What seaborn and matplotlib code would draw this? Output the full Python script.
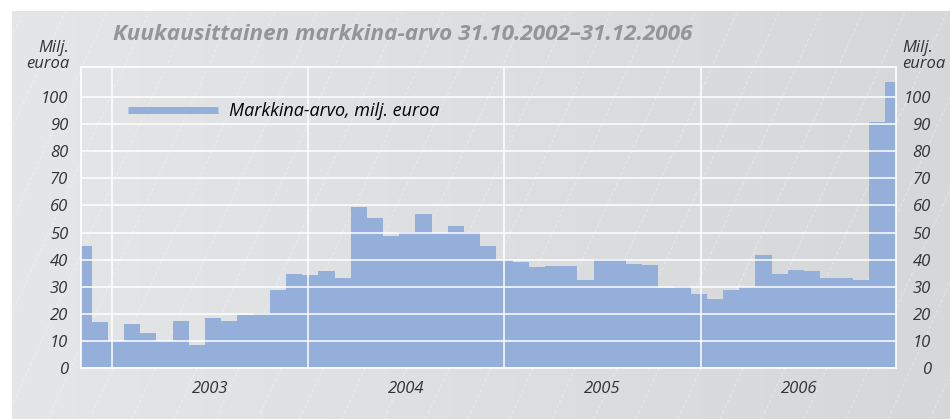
import numpy as np
import pandas as pd
import matplotlib
matplotlib.use("Agg")
import matplotlib.pyplot as plt
import seaborn as sns
from matplotlib.lines import Line2D
from matplotlib.colors import LinearSegmentedColormap

# ---------------- data ----------------
months = pd.date_range("2002-10-01", "2006-12-01", freq="MS").strftime("%Y-%m").tolist()
values = [45.0, 16.9, 10.2,
          16.4, 13.1, 10.2, 17.6, 8.5, 18.4, 17.5, 19.6, 20.5, 29.0, 34.8, 34.3,
          35.7, 33.1, 59.4, 55.4, 48.7, 50.1, 56.8, 49.7, 52.3, 50.2, 45.2, 39.9,
          39.1, 37.3, 37.6, 37.6, 32.4, 40.4, 40.1, 38.5, 38.0, 29.5, 30.2, 27.3,
          25.7, 28.7, 30.0, 41.7, 34.8, 36.3, 35.7, 33.1, 33.1, 32.7, 90.9, 105.5]
years = ["2003", "2004", "2005", "2006"]
y_ticks = list(range(0, 101, 10))
title = "Kuukausittainen markkina-arvo 31.10.2002\u201331.12.2006"
legend_label = "Markkina-arvo, milj. euroa"
unit_label = "Milj.\neuroa"

# ---------------- style ----------------
sns.set_style("white")
plt.rcParams["font.family"] = ["Open Sans", "DejaVu Sans"]
plt.rcParams["font.style"] = "italic"

bar_color = "#95afdb"
text_color = "#333333"

W, H = 950, 419
fig = plt.figure(figsize=(W / 100, H / 100), dpi=100, facecolor="white")

# background panel with gradient and faint dashed diagonals
bg = fig.add_axes([12 / W, 0, (W - 12) / W, (H - 11) / H])
bg.set_zorder(0)
cmap = LinearSegmentedColormap.from_list("g", ["#e5e6e8", "#d6d7d9"])
bg.imshow(np.linspace(0, 1, 256).reshape(1, -1), cmap=cmap, aspect="auto",
          extent=[0, W - 12, 0, H - 11])
for x0 in np.arange(-300, W + 50, 42):
    bg.plot([x0, x0 + (H - 11) / 2.2], [0, H - 11], color="white", lw=0.6,
            ls=(0, (4, 3)), alpha=0.4)
bg.set_xlim(0, W - 12)
bg.set_ylim(0, H - 11)
bg.axis("off")

# main axes
ax = fig.add_axes([80.7 / W, 1 - 368.3 / H, (896 - 80.7) / W, (368.3 - 67) / H])
ax.set_zorder(1)
ax.patch.set_alpha(0)

df = pd.DataFrame({"month": months, "value": values})
sns.barplot(data=df, x="month", y="value", color=bar_color, saturation=1,
            width=1.0, linewidth=0, ax=ax)

ax.set_xlim(-0.18, 50.18)
ax.set_ylim(0, 111)
ax.set_yticks(y_ticks)
ax.set_ylabel("")
ax.set_xlabel("")
ax.set_axisbelow(False)
ax.yaxis.grid(True, color="white", lw=1.1)
ax.xaxis.grid(False)

first_year_line = 1.735
year_step = 12.13
year_lines = [first_year_line + k * year_step for k in range(len(years) + 1)]
for xl in year_lines[:-1]:
    ax.axvline(xl, color="white", lw=1.1, zorder=3)
centers = [(year_lines[k] + year_lines[k + 1]) / 2 for k in range(len(years))]
ax.set_xticks(centers)
ax.set_xticklabels(years)

for s in ax.spines.values():
    s.set_color("white")
    s.set_linewidth(1.2)
    s.set_visible(True)

ax.tick_params(axis="y", length=0, pad=9, labelsize=12, labelcolor=text_color)
ax.tick_params(axis="x", length=0, pad=9, labelsize=12, labelcolor=text_color)

ax2 = ax.twinx()
ax2.set_ylim(ax.get_ylim())
ax2.set_yticks(y_ticks)
ax2.tick_params(axis="y", length=0, pad=25, labelsize=12, labelcolor=text_color)
for t in ax2.get_yticklabels():
    t.set_ha("right")
for s in ax2.spines.values():
    s.set_visible(False)
ax2.grid(False)

# legend
handle = Line2D([0], [0], color=bar_color, lw=5, solid_capstyle="butt")
fig.legend([handle], [legend_label], loc="center left",
           bbox_to_anchor=(128 / W, 1 - 111 / H), frameon=False,
           handlelength=5.0, handletextpad=0.6, borderpad=0, borderaxespad=0,
           fontsize=13, labelcolor="black")

# titles and unit labels
fig.text(403 / W, 1 - 35 / H, title, ha="center", va="center", fontsize=16.2,
         weight="bold", color="#959595")
fig.text(69 / W, 1 - 56 / H, unit_label, ha="right", va="center", fontsize=12,
         color=text_color, linespacing=1.0)
fig.text(902 / W, 1 - 56 / H, unit_label, ha="left", va="center", fontsize=12,
         color=text_color, linespacing=1.0)

fig.savefig("out.png", dpi=100)
